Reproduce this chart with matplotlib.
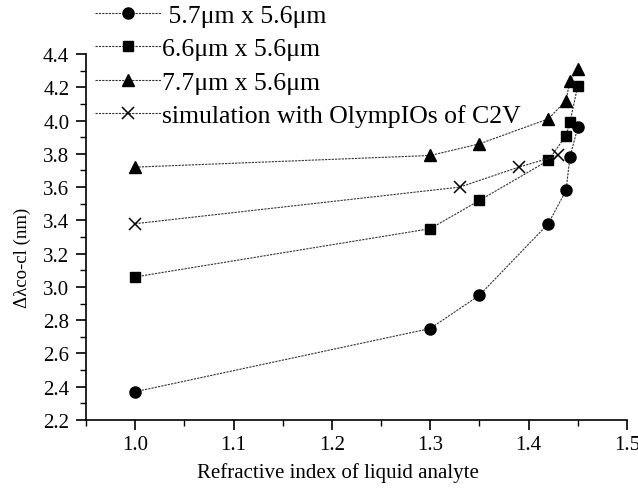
import matplotlib
matplotlib.use("Agg")
import matplotlib.pyplot as plt
from matplotlib.ticker import MultipleLocator, FormatStrFormatter

plt.rcParams['font.family'] = ['Liberation Serif', 'DejaVu Serif']

# data
n_meas = [1.0, 1.3, 1.35, 1.42, 1.438, 1.442, 1.45]
d_57 = [2.37, 2.75, 2.95, 3.38, 3.58, 3.78, 3.96]
d_66 = [3.06, 3.35, 3.52, 3.76, 3.91, 3.99, 4.21]
d_77 = [3.72, 3.79, 3.86, 4.01, 4.12, 4.24, 4.31]
n_sim = [1.0, 1.33, 1.39, 1.43]
d_sim = [3.38, 3.60, 3.72, 3.79]

labels = [" 5.7\u03bcm x 5.6\u03bcm", "6.6\u03bcm x 5.6\u03bcm",
          "7.7\u03bcm x 5.6\u03bcm", "simulation with OlympIOs of C2V"]
xticks = [1.0, 1.1, 1.2, 1.3, 1.4, 1.5]

fig = plt.figure(figsize=(6.38, 4.89), dpi=100)
ax = fig.add_axes([86/638, 68/489, (627-86)/638, (421-55)/489])

ls = (0, (2, 1))
lc = '#333333'
ax.plot(n_meas, d_57, linestyle=ls, color=lc, lw=0.8, marker='o', ms=8,
        mfc='black', mec='black', label=labels[0])
ax.plot(n_meas, d_66, linestyle=ls, color=lc, lw=0.8, marker='s', ms=7,
        mfc='black', mec='black', label=labels[1])
ax.plot(n_meas, d_77, linestyle=ls, color=lc, lw=0.8, marker='^', ms=9,
        mfc='black', mec='black', label=labels[2])
ax.plot(n_sim, d_sim, linestyle=ls, color=lc, lw=0.8, marker='x', ms=8,
        mew=1.1, mec='black', label=labels[3])

ax.set_xlim(0.95, 1.5)
ax.set_ylim(2.2, 4.4)
ax.set_xticks(xticks)
ax.set_xticklabels(["%.1f" % t for t in xticks])
ax.xaxis.set_minor_locator(MultipleLocator(0.05))
ax.yaxis.set_major_locator(MultipleLocator(0.2))
ax.yaxis.set_minor_locator(MultipleLocator(0.1))
ax.yaxis.set_major_formatter(FormatStrFormatter('%.1f'))

ax.spines['top'].set_visible(False)
ax.spines['right'].set_visible(False)
ax.spines['left'].set_linewidth(1.2)
ax.spines['bottom'].set_linewidth(1.2)
ax.tick_params(which='major', direction='out', length=7, width=1.2, labelsize=15)
ax.tick_params(axis='x', which='major', pad=4)
ax.tick_params(axis='y', which='major', pad=5)
ax.tick_params(which='minor', direction='out', length=4, width=1.0)

fig.text(338/638, 1 - 473/489, "Refractive index of liquid analyte",
         fontsize=15, ha='center', va='center')
fig.text(22/638, 1 - 258/489, "\u0394\u03bbco-cl (nm)", fontsize=13.5,
         rotation=90, ha='center', va='center')

fig.legend(loc='upper left', bbox_to_anchor=(95/638, 1 - 5/489),
           bbox_transform=fig.transFigure, frameon=False, fontsize=18.5,
           borderpad=0, borderaxespad=0, handlelength=2.55,
           handletextpad=0.05, labelspacing=0.40)

plt.savefig("out.png", dpi=100)
